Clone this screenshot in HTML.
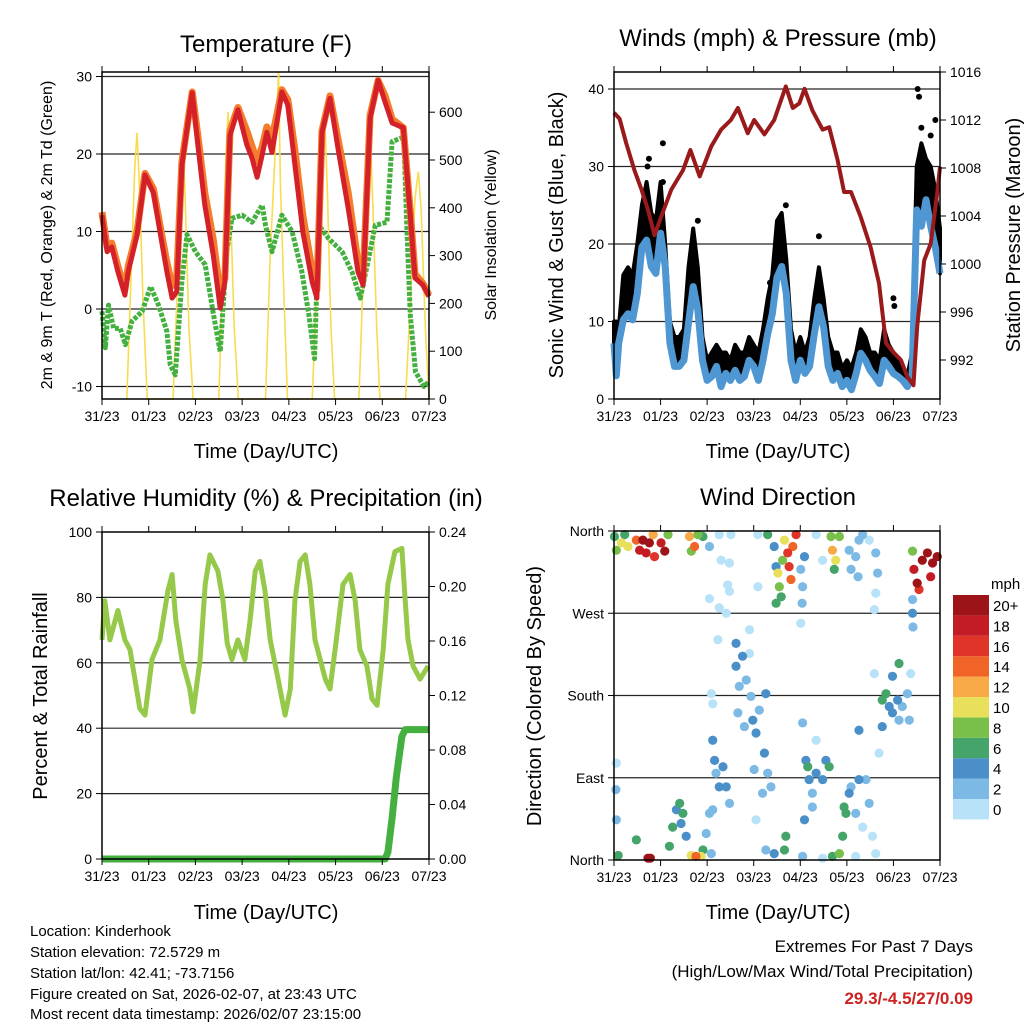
<!DOCTYPE html>
<html><head><meta charset="utf-8"><style>
body{margin:0;background:#fff}
svg{display:block;font-family:"Liberation Sans",Arial,sans-serif}
</style></head><body>
<svg id="chart" width="1024" height="1024" viewBox="0 0 1024 1024" xmlns="http://www.w3.org/2000/svg">
<g id="layer"></g>
<text x="266" y="52" font-size="24" text-anchor="middle">Temperature (F)</text>
<text x="778" y="46" font-size="24" text-anchor="middle">Winds (mph) &amp; Pressure (mb)</text>
<text x="266" y="506" font-size="24" text-anchor="middle">Relative Humidity (%) &amp; Precipitation (in)</text>
<text x="778" y="505" font-size="24" text-anchor="middle">Wind Direction</text>
<text x="266" y="458" font-size="20" text-anchor="middle">Time (Day/UTC)</text>
<text x="778" y="458" font-size="20" text-anchor="middle">Time (Day/UTC)</text>
<text x="266" y="919" font-size="20" text-anchor="middle">Time (Day/UTC)</text>
<text x="778" y="919" font-size="20" text-anchor="middle">Time (Day/UTC)</text>
<text transform="translate(52,235) rotate(-90)" font-size="16" text-anchor="middle">2m &amp; 9m T (Red, Orange) &amp; 2m Td (Green)</text>
<text transform="translate(496,235) rotate(-90)" font-size="16" text-anchor="middle">Solar Insolation (Yellow)</text>
<text transform="translate(563,235) rotate(-90)" font-size="20" text-anchor="middle">Sonic Wind &amp; Gust (Blue, Black)</text>
<text transform="translate(1020,235) rotate(-90)" font-size="20" text-anchor="middle">Station Pressure (Maroon)</text>
<text transform="translate(47,696) rotate(-90)" font-size="20" text-anchor="middle">Percent &amp; Total Rainfall</text>
<text transform="translate(541,696) rotate(-90)" font-size="20" text-anchor="middle">Direction (Colored By Speed)</text>
<g font-size="15">
<text x="30" y="936">Location: Kinderhook</text>
<text x="30" y="957">Station elevation: 72.5729 m</text>
<text x="30" y="978">Station lat/lon: 42.41; -73.7156</text>
<text x="30" y="999">Figure created on Sat, 2026-02-07, at 23:43 UTC</text>
<text x="30" y="1019">Most recent data timestamp: 2026/02/07 23:15:00</text>
</g>
<g font-size="17" text-anchor="end">
<text x="973" y="952">Extremes For Past 7 Days</text>
<text x="973" y="977">(High/Low/Max Wind/Total Precipitation)</text>
<text x="973" y="1004" fill="#cc2222" font-weight="bold">29.3/-4.5/27/0.09</text>
</g>
</svg>
<script>
const dayLabels=["31/23","01/23","02/23","03/23","04/23","05/23","06/23","07/23"];
const tTemp=[0,.11,.21,.34,.49,.56,.75,.92,1.1,1.28,1.39,1.5,1.6,1.71,1.93,2.06,2.2,2.38,2.53,2.63,2.74,2.91,3.1,3.21,3.32,3.43,3.53,3.64,3.85,3.98,4.13,4.3,4.5,4.6,4.71,4.88,5.05,5.27,5.48,5.59,5.74,5.91,6.06,6.21,6.45,6.6,6.7,6.87,7];
const tempRed=[12.1,7.4,8,4.8,1.8,4.8,9.5,17.3,15,8.6,4.8,1.4,2.2,18.6,27.9,20.8,13.4,7,0.1,3.5,22.4,25.7,21.2,19.5,17,19.9,22.8,20.2,28,26.3,18.6,9.9,3.5,1.4,22.8,27.2,20.8,13,4.8,3.1,24.6,29.5,26.7,24,23.4,12.1,4,3.1,1.6];
const tempOrange=[12.5,8,8.5,5.5,2.5,5.5,10,17.5,15.5,9.5,6,3,4,19,28,22,15,9,2,4,23,26,23,21,19,21,23.5,22,28.3,27,20.5,12,5,2.5,23,27.5,22,15,6,4,25,29.5,27.5,24.5,23.4,12.5,4.5,3.3,1.8];
const tDew=[0,.07,.14,.25,.39,.5,.64,.86,1.04,1.21,1.39,1.46,1.57,1.71,1.82,2,2.21,2.39,2.53,2.67,2.78,3,3.21,3.43,3.5,3.64,3.85,4.07,4.28,4.43,4.55,4.64,4.85,5.14,5.35,5.53,5.68,5.85,6.1,6.21,6.46,6.53,6.6,6.71,6.89,7];
const dewGreen=[-0.3,-5,0.5,-2.5,-2.5,-4.6,-1.6,-0.3,2.9,0.5,-2.9,-7.2,-8.5,3.6,9.6,7.4,5.7,-0.8,-5.5,7.4,11.7,12.1,11.2,13.4,10.8,7.4,12.1,10,4.8,-0.8,-6.4,10.8,9.1,7.4,4.8,1.4,5.7,10.8,11.2,21.6,22.2,10,-0.8,-8.1,-10,-9.4];
const tSolar=[.53,.62,.70,.75,.80,.88,.97,1.52,1.6,1.68,1.73,1.78,1.86,1.95,2.5,2.58,2.65,2.7,2.75,2.83,2.92,3.5,3.6,3.7,3.78,3.82,3.9,3.97,4.5,4.6,4.7,4.78,4.83,4.9,4.98,5.5,5.6,5.68,5.74,5.8,5.88,5.95,6.5,6.6,6.7,6.77,6.83,6.92,7];
const solar=[0,250,480,557,450,200,0,0,200,450,543,420,150,0,0,250,500,600,400,150,0,0,300,500,685,450,200,0,0,250,480,560,420,150,0,0,280,500,570,400,150,0,0,200,420,476,400,150,0];
const tWind=[0,.05,.1,.2,.3,.4,.5,.6,.7,.8,.9,1,1.1,1.2,1.3,1.4,1.5,1.6,1.7,1.8,1.9,2,2.1,2.2,2.3,2.4,2.5,2.6,2.7,2.8,2.9,3,3.1,3.2,3.3,3.4,3.5,3.6,3.7,3.8,3.9,4,4.1,4.2,4.3,4.4,4.5,4.6,4.7,4.8,4.9,5,5.1,5.2,5.3,5.4,5.5,5.6,5.7,5.8,5.9,6,6.1,6.2,6.3,6.4,6.5,6.6,6.7,6.8,6.9,7];
const windAvg=[7.2,3,7.2,10.2,11,10.2,13.6,19.6,20.5,17.1,16.2,21.4,17.1,7.2,4.2,4.2,5,9.8,14.5,11.5,5,2.4,2.9,4.2,1.6,3.3,2.4,3.7,2.4,2.9,5,4.2,2.4,5,8.4,11,15.7,17.1,13.6,5,2.4,5,3.3,4.2,8.4,11.9,9.3,4.2,2.4,3.3,1.6,2.4,1.2,3.3,5.9,5,3.7,2.9,2,5,4.2,3.3,2.9,2.4,1.6,2.9,24.4,22.3,25.7,22.3,19.6,16.2];
const windGust=[10,10,9,16,17,16,20,25,28,24,23,28,20,10,8,8,9,17,22,17,8,5,6,7,6,6,5,7,6,6,8,7,6,9,13,16,23,24,18,9,6,8,6,8,13,17,13,8,6,6,4,5,4,6,9,8,6,6,5,9,7,6,5,4,3,6,30,33,31,30,27,22];
const tGustOut=[1.05,1.05,0.72,6.52,6.55,6.9,3.69,6.0,6.02,3.35,4.4,1.8,0.75,6.6,6.8];
const gustOut=[33,28,30,40,39,36,25,13,12,15,21,23,31,35,34];
const tPres=[0,.12,.26,.44,.59,.73,.87,1.01,1.23,1.48,1.64,1.84,2.09,2.3,2.51,2.66,2.87,3.01,3.23,3.44,3.69,3.84,3.98,4.09,4.26,4.48,4.62,4.8,4.94,5.09,5.3,5.51,5.69,5.84,6.01,6.16,6.3,6.43,6.51,6.66,6.8,6.94,7];
const pressure=[1012.6,1012.1,1010.1,1007.8,1006.2,1004.5,1002.4,1003.9,1006.2,1007.8,1009.5,1007.3,1009.8,1011.2,1012,1013,1010.9,1012,1010.8,1012,1014.8,1013,1013.4,1014.6,1012.8,1011.2,1011.4,1008.7,1006,1006,1003.9,1001.4,998.4,993.4,992.6,992,990.6,989.9,994.8,1000.3,1001.7,1005.9,1008.1];
const tRH=[0,.06,.17,.34,.49,.6,.81,.92,1.07,1.24,1.41,1.5,1.58,1.71,1.88,1.95,2.1,2.21,2.31,2.48,2.59,2.68,2.78,2.91,3.06,3.17,3.28,3.38,3.49,3.6,3.77,3.92,4.03,4.13,4.24,4.35,4.45,4.56,4.67,4.78,4.88,4.99,5.16,5.31,5.42,5.52,5.67,5.78,5.89,6.02,6.12,6.27,6.42,6.49,6.55,6.66,6.81,6.98];
const rh=[67,79,67,76,67,64,46,44,61,67,82,87,73,61,52,45,61,84,93,88,79,66,61,67,61,73,88,91,82,67,55,44,52,79,91,93,84,67,61,55,52,64,84,87,79,64,59,49,47,64,84,94,95,79,67,59,55,59];
const tPrecip=[0,6.06,6.12,6.21,6.3,6.36,6.42,6.49,7];
const precip=[0,0,0.005,0.03,0.06,0.075,0.09,0.095,0.095];
const tDir=[.01,.05,.16,.3,.48,.55,.62,.69,.76,.87,1.01,1.09,1.16,.23,.84,1.62,1.73,1.8,1.66,1.91,2.05,2.26,2.51,2.3,2.48,2.44,2.05,2.26,3.09,3.09,2.48,2.41,2.12,2.16,2.19,2.26,2.34,2.41,2.48,2.12,2.09,2.23,2.12,2.62,2.69,2.76,2.84,2.91,2.94,2.98,3.05,3.12,2.66,2.8,2.91,2.62,3.23,3.3,3.37,3.19,3.26,3.05,3.01,3.44,3.48,3.52,3.55,3.59,3.48,3.66,3.73,3.76,3.8,3.84,3.91,3.62,3.3,4.01,4.05,4.04,4.01,4.09,4.12,4.19,4.26,4.34,4.48,4.55,4.16,4.05,4.34,4.09,4.26,4.62,4.66,4.69,4.76,4.84,4.73,4.48,4.34,5.05,5.09,5.19,5.24,5.34,5.48,5.62,5.66,5.62,5.59,5.26,4.69,4.84,4.91,4.98,5.05,5.19,5.26,5.41,5.48,5.34,5.55,5.62,5.09,5.69,5.26,5.19,4.94,5.76,5.84,5.91,5.98,6.09,6.19,6.3,6.12,5.98,6.12,6.34,5.76,5.59,6.37,6.44,6.51,6.62,6.73,6.84,6.94,6.55,6.8,6.41,6.41,6.42,6.41,.04,.05,.09,.05,.48,.73,.78,1.19,1.26,1.34,1.41,1.48,1.44,1.55,1.66,1.76,1.87,1.98,2.05,1.91,2.09,3.26,3.44,3.66,3.69,4.05,4.48];
const dirDeg=[354,339,347,343,350,339,350,336,347,332,347,338,356,356,356,354,343,356,338,354,343,356,356,328,325,301,286,276,356,299,294,270,131,109,95,80,102,80,62,55,182,241,171,212,190,223,197,226,179,153,139,164,161,146,252,237,117,95,80,73,182,44,99,343,321,314,299,288,281,350,336,321,307,343,356,328,356,318,299,281,259,332,109,88,73,95,88,109,102,150,131,44,58,102,354,339,328,354,318,328,356,339,318,332,310,356,350,336,314,292,274,350,4,7,26,51,73,51,88,88,62,36,26,7,80,117,142,4,58,175,182,168,161,175,168,182,215,201,153,153,146,204,204,318,303,328,336,325,332,296,310,338,270,255,285,77,44,5,106,22,2,2,15,36,55,62,51,40,26,5,4,4,29,51,11,7,11,7,11,26,4,2];
const dirSpd=[6,8,10,10,14,18,20,18,20,16,18,20,8,7,12,12,14,8,9,6,2,0,0,1,0,0,0,0,0,0,0,0,4,4,3,4,4,4,3,2,1,1,1,4,3,4,2,1,2,4,4,3,2,2,0,4,4,3,2,2,4,1,2,4,4,10,8,7,7,10,16,16,14,14,16,9,7,3,3,2,1,4,4,4,3,4,4,4,7,2,1,4,2,6,8,12,10,8,6,1,0,2,2,2,2,2,1,2,2,1,0,2,7,8,7,6,4,2,4,3,2,1,1,0,3,1,4,0,6,7,6,4,4,4,2,2,7,4,3,2,4,1,1,18,20,20,20,20,20,16,18,8,4,2,2,2,2,6,1,6,20,20,6,6,4,6,7,4,4,10,14,10,2,2,6,2,2,4,7,6,2,0];
const spdLevels=["0","2","4","6","8","10","12","14","16","18","20+"];
const spdColors=["#b8e2f8","#7cb9e4","#4a8fc8","#45a46a","#78c04a","#e8e05a","#f8aa48","#f06428","#e03428","#c41c24","#9c1418"];

const NS="http://www.w3.org/2000/svg";
const layer=document.getElementById('layer');
function mk(tag,attrs,parent){const e=document.createElementNS(NS,tag);for(const k in attrs)e.setAttribute(k,attrs[k]);(parent||layer).appendChild(e);return e;}
function txt(x,y,s,size,anchor,parent){const e=mk('text',{x:x,y:y,'font-size':size,'text-anchor':anchor},parent);e.textContent=s;return e;}
function poly(ts,vs,sx,sy){return ts.map((t,i)=>sx(t).toFixed(1)+','+sy(vs[i]).toFixed(1)).join(' ');}

const P1={l:102,r:429,t:72,b:399}, P2={l:614,r:940,t:72,b:399}, P3={l:102,r:429,t:532,b:859}, P4={l:614,r:940,t:531,b:860};
const sx1=t=>P1.l+t*(P1.r-P1.l)/7, sx2=t=>P2.l+t*(P2.r-P2.l)/7, sx3=t=>P3.l+t*(P3.r-P3.l)/7, sx4=t=>P4.l+t*(P4.r-P4.l)/7;
const syT=v=>309-v*7.75, sySol=v=>399-v*0.478;
const syW=v=>399-v*7.75, syP=v=>72+(1016-v)*12;
const syRH=v=>859-v*3.27, syPr=v=>859-v*1362.5;
const syD=v=>860-v*(329/360);

function frame(P,name){
  const g=mk('g',{});
  
  
  mk('rect',{x:P.l,y:P.t,width:P.r-P.l,height:P.b-P.t,fill:'none',stroke:'#000','stroke-width':1.5},g);
  return g;
}
function grid(P,ys,name){
  ys.forEach(y=>{const l=mk('line',{x1:P.l,x2:P.r,y1:y,y2:y,stroke:'#000','stroke-width':1.2,opacity:0.85});
  
  });
}
function xaxis(P,sx,name){
  const g=mk('g',{'font-size':14});
  
  
  dayLabels.forEach((lab,i)=>{const x=sx(i);
    mk('line',{x1:x,x2:x,y1:P.b,y2:P.b+6,stroke:'#000'},g);
    mk('line',{x1:x,x2:x,y1:P.t,y2:P.t-6,stroke:'#000'},g);
    txt(x,P.b+22,lab,14,'middle',g);});
}
function yaxis(P,vals,labels,sy,side,name){
  const g=mk('g',{});
  
  
  vals.forEach((v,i)=>{const y=sy(v);
    if(side==='l'){mk('line',{x1:P.l-6,x2:P.l,y1:y,y2:y,stroke:'#000'},g);txt(P.l-10,y+5,labels[i],14,'end',g);}
    else{mk('line',{x1:P.r,x2:P.r+6,y1:y,y2:y,stroke:'#000'},g);txt(P.r+10,y+5,labels[i],14,'start',g);}});
}
grid(P1,[syT(30),syT(20),syT(10),syT(0),syT(-10)],'temp');
let e;
e=mk('polyline',{points:poly(tSolar,solar,sx1,sySol),fill:'none',stroke:'#f8dc50','stroke-width':1.6});


e=mk('polyline',{points:poly(tDew,dewGreen,sx1,syT),fill:'none',stroke:'#44b040','stroke-width':5,'stroke-dasharray':'4 1.5','stroke-linejoin':'round'});


e=mk('polyline',{points:poly(tTemp,tempOrange,sx1,syT),fill:'none',stroke:'#f47c2c','stroke-width':7,'stroke-linejoin':'round'});


e=mk('polyline',{points:poly(tTemp,tempRed,sx1,syT),fill:'none',stroke:'#d42028','stroke-width':5,'stroke-linejoin':'round'});


frame(P1,'temp');
xaxis(P1,sx1,'temp');
yaxis(P1,[30,20,10,0,-10],['30','20','10','0','-10'],syT,'l','temp-left-axis');
yaxis(P1,[0,100,200,300,400,500,600],['0','100','200','300','400','500','600'],sySol,'r','solar-right-axis');
grid(P2,[syW(40),syW(30),syW(20),syW(10)],'wind');
const band=tWind.map((t,i)=>sx2(t).toFixed(1)+','+syW(windGust[i]).toFixed(1)).concat(tWind.slice().reverse().map((t,j)=>{const i=tWind.length-1-j;return sx2(t).toFixed(1)+','+syW(windAvg[i]).toFixed(1);})).join(' ');
e=mk('polygon',{points:band,fill:'#000',stroke:'#000','stroke-width':4,'stroke-linejoin':'round'});


tGustOut.forEach((t,i)=>{const c=mk('circle',{cx:sx2(t),cy:syW(gustOut[i]),r:3,fill:'#000'});

});
e=mk('polyline',{points:poly(tWind,windAvg,sx2,syW),fill:'none',stroke:'#4f97d2','stroke-width':7,'stroke-linejoin':'round'});


e=mk('polyline',{points:poly(tPres,pressure,sx2,syP),fill:'none',stroke:'#9a1a1c','stroke-width':4,'stroke-linejoin':'round'});


frame(P2,'wind');
xaxis(P2,sx2,'wind');
yaxis(P2,[0,10,20,30,40],['0','10','20','30','40'],syW,'l','wind-left-axis');
yaxis(P2,[992,996,1000,1004,1008,1012,1016],['992','996','1000','1004','1008','1012','1016'],syP,'r','pressure-right-axis');
grid(P3,[syRH(80),syRH(60),syRH(40),syRH(20)],'rh');
e=mk('polyline',{points:poly(tRH,rh,sx3,syRH),fill:'none',stroke:'#96c84a','stroke-width':5,'stroke-linejoin':'round'});


e=mk('polyline',{points:poly(tPrecip,precip,sx3,syPr),fill:'none',stroke:'#44b040','stroke-width':7,'stroke-linejoin':'round'});


frame(P3,'rh');
xaxis(P3,sx3,'rh');
yaxis(P3,[0,20,40,60,80,100],['0','20','40','60','80','100'],syRH,'l','rh-left-axis');
yaxis(P3,[0,.04,.08,.12,.16,.2,.24],['0.00','0.04','0.08','0.12','0.16','0.20','0.24'],syPr,'r','precip-right-axis');
grid(P4,[syD(90),syD(180),syD(270)],'dir');
const order=dirSpd.map((s,i)=>i).sort((a,b)=>dirSpd[a]-dirSpd[b]);
order.forEach(i=>{const lvl=Math.min(10,Math.floor(dirSpd[i]/2));
  const c=mk('circle',{cx:sx4(tDir[i]),cy:syD(dirDeg[i]),r:4.6,fill:spdColors[lvl]});
  
  });
frame(P4,'dir');
xaxis(P4,sx4,'dir');
yaxis(P4,[0,90,180,270,360],['North','East','South','West','North'],syD,'l','direction-axis');
const cb=mk('g',{});


txt(991,589,'mph',15,'start',cb);
spdLevels.forEach((lab,i)=>{const y=595+(10-i)*20.4;
  mk('rect',{x:953,y:y,width:36,height:20.4,fill:spdColors[i]},cb);
  txt(993,y+16,lab,15,'start',cb);});
</script>
</body></html>
